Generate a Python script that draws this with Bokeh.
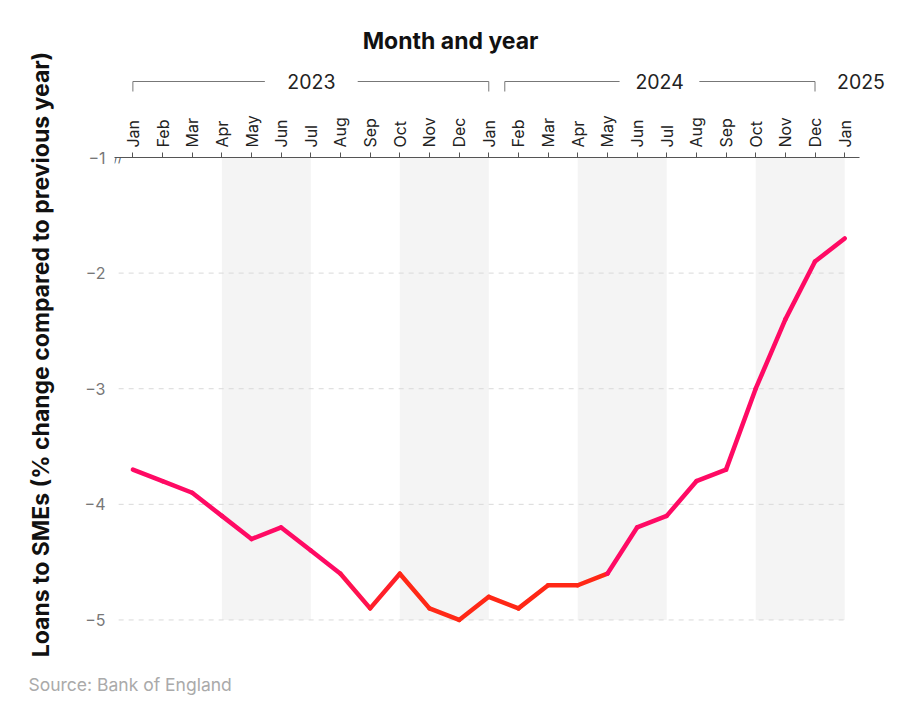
import math
from bokeh.plotting import figure
from bokeh.layouts import column, row
from bokeh.models import Range1d, FixedTicker, Label
from bokeh.embed import file_html
from bokeh.resources import INLINE

# ---- data ----
months = ["Jan", "Feb", "Mar", "Apr", "May", "Jun", "Jul", "Aug", "Sep", "Oct", "Nov", "Dec",
          "Jan", "Feb", "Mar", "Apr", "May", "Jun", "Jul", "Aug", "Sep", "Oct", "Nov", "Dec",
          "Jan"]
loans_change = [-3.7, -3.8, -3.9, -4.1, -4.3, -4.2, -4.4, -4.6, -4.9, -4.6, -4.9, -5.0,
                -4.8, -4.9, -4.7, -4.7, -4.6, -4.2, -4.1, -3.8, -3.7, -3.0, -2.4, -1.9,
                -1.7]
y_ticks = [-5, -4, -3, -2, -1]
grid_values = [-5, -4, -3, -2]
shade_start = [3, 9, 15, 21]
shade_end = [6, 12, 18, 24]
years = ["2023", "2024", "2025"]
year_centers = [6.02, 17.76, 24.55]
# bracket pieces (month index): [start, gap_start, gap_end, end]
brackets = [[0, 4.45, 7.58, 12], [12.54, 16.41, 19.1, 23]]

FONT = "Inter"
idx = list(range(len(months)))

# ---- geometry ----
TOTAL_W, TOTAL_H = 892, 704
LEFT_W = 70
HEADER_H = 100
FOOTER_H = 34
MAIN_H = TOTAL_H - HEADER_H - FOOTER_H
MAIN_W = TOTAL_W - LEFT_W
FRAME_W = 745
MB_LEFT = 44
MB_RIGHT = MAIN_W - FRAME_W - MB_LEFT
MB_TOP = 57
FRAME_H = 474
MB_BOTTOM = MAIN_H - FRAME_H - MB_TOP
X0, X1 = -0.62, 24.5
PPM = FRAME_W / (X1 - X0)


def blank(w, h, xr, yr):
    f = figure(width=w, height=h, x_range=xr, y_range=yr,
               x_axis_type=None, y_axis_type=None,
               output_backend="svg", toolbar_location=None,
               min_border=0, min_border_left=0, min_border_right=0,
               min_border_top=0, min_border_bottom=0)
    f.outline_line_color = None
    f.grid.visible = False
    f.background_fill_color = "white"
    f.border_fill_color = "white"
    f.frame_align = False
    return f


# ---- main plot ----
p = figure(width=MAIN_W, height=MAIN_H,
           x_range=Range1d(X0, X1), y_range=Range1d(-5.1, -1),
           x_axis_location="above",
           output_backend="svg", toolbar_location=None,
           min_border_left=MB_LEFT, min_border_top=MB_TOP,
           min_border_right=MB_RIGHT, min_border_bottom=MB_BOTTOM)
p.outline_line_color = None
p.xgrid.visible = False
p.ygrid.visible = False
p.background_fill_color = "white"
p.border_fill_color = "white"
p.frame_align = False

p.quad(left=shade_start, right=shade_end, bottom=-5, top=-1,
       fill_color="#f4f4f4", line_color=None)

p.segment(x0=[-0.48] * len(grid_values), x1=[24.02] * len(grid_values),
          y0=grid_values, y1=grid_values,
          line_color="#d9d9d9", line_width=1, line_dash="5 5")

pink = (255, 10, 100)
red = (255, 40, 22)


def red_weight(xm):
    if xm <= 7.0 or xm >= 16.5:
        return 0.0
    if xm < 9.0:
        return (xm - 7.0) / 2.0
    if xm <= 15.5:
        return 1.0
    return (16.5 - xm) / 1.0


seg_colors = []
for i in range(len(idx) - 1):
    w = red_weight((idx[i] + idx[i + 1]) / 2)
    c = tuple(int(round(pink[k] * (1 - w) + red[k] * w)) for k in range(3))
    seg_colors.append("#%02x%02x%02x" % c)

p.segment(x0=idx[:-1], x1=idx[1:], y0=loans_change[:-1], y1=loans_change[1:],
          line_color=seg_colors, line_width=4.5, line_cap="round")

xa = p.xaxis[0]
xa.ticker = FixedTicker(ticks=idx)
xa.major_label_overrides = {i: m for i, m in zip(idx, months)}
xa.major_label_orientation = "vertical"
xa.major_label_text_font = FONT
xa.major_label_text_font_size = "16px"
xa.major_label_text_color = "#222222"
xa.axis_line_color = "#555555"
xa.major_tick_line_color = "#555555"
xa.major_tick_out = 5
xa.major_tick_in = 0
xa.minor_tick_line_color = None
xa.major_label_standoff = 5

ya = p.yaxis[0]
ya.ticker = FixedTicker(ticks=y_ticks)
ya.axis_line_color = None
ya.major_tick_line_color = None
ya.minor_tick_line_color = None
ya.major_tick_out = 0
ya.major_label_standoff = 9
ya.major_label_text_font = FONT
ya.major_label_text_font_size = "16px"
ya.major_label_text_color = "#777777"

p.add_layout(Label(x=-0.5, y=-1, text="//", text_font=FONT, text_font_size="12px",
                   text_color="#555555", text_align="center", text_baseline="middle"))

# ---- header: title, year brackets ----
hx0 = X0 - MB_LEFT / PPM
hx1 = X1 + MB_RIGHT / PPM
header = blank(MAIN_W, HEADER_H, Range1d(hx0, hx1), Range1d(HEADER_H, 0))
BR_Y, BR_DROP = 81, 91
for b0, g0, g1, b1 in brackets:
    header.segment(x0=[b0, g1, b0, b1], x1=[g0, b1, b0, b1],
                   y0=[BR_Y, BR_Y, BR_Y, BR_Y], y1=[BR_Y, BR_Y, BR_DROP, BR_DROP],
                   line_color="#777777", line_width=1)
header.text(x=year_centers, y=[BR_Y] * len(years), text=years,
            text_font={"value": FONT}, text_font_size="19.5px", text_color="#222222",
            text_align="center", text_baseline="middle")
header.add_layout(Label(x=(450 - 132.3) / PPM, y=40, text="Month and year", text_font=FONT,
                        text_font_size="23px", text_font_style="bold", text_color="#111111",
                        text_align="center", text_baseline="middle"))

# ---- left strip: y axis title ----
left = blank(LEFT_W, HEADER_H + MAIN_H, Range1d(0, LEFT_W), Range1d(HEADER_H + MAIN_H, 0))
left.add_layout(Label(x=40, y=354, text="Loans to SMEs (% change compared to previous year)",
                      text_font=FONT, text_font_size="23px", text_font_style="bold",
                      text_color="#111111", text_align="center", text_baseline="middle",
                      angle=math.pi / 2))

# ---- footer: source ----
footer = blank(TOTAL_W, FOOTER_H, Range1d(0, TOTAL_W), Range1d(FOOTER_H, 0))
footer.add_layout(Label(x=28, y=14, text="Source: Bank of England", text_font=FONT,
                        text_font_size="17.5px", text_color="#aaaaaa",
                        text_align="left", text_baseline="middle"))

layout = column(row(left, column(header, p, spacing=0), spacing=0), footer, spacing=0)

open("out.html", "w").write(file_html(layout, INLINE))
